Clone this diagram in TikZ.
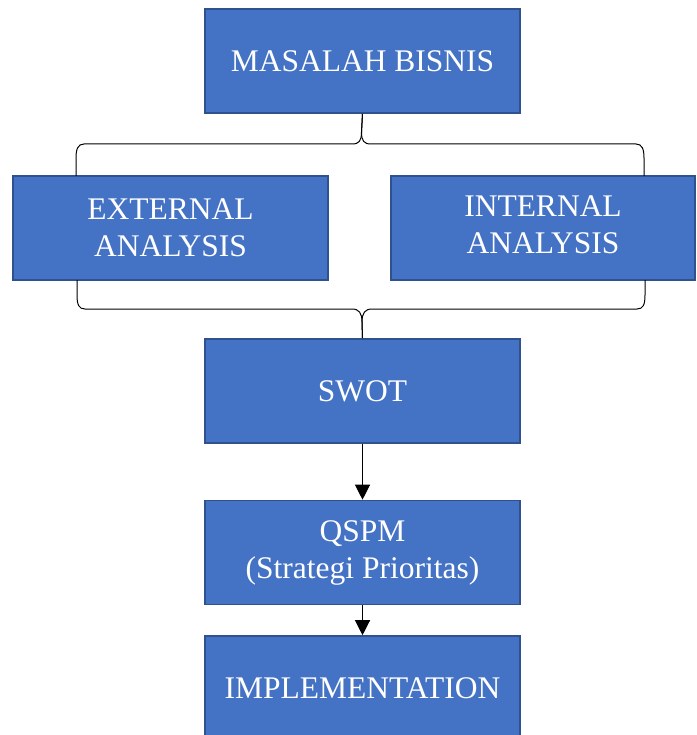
\documentclass[tikz,border=0pt]{standalone}
\usepackage{fontspec}
\setmainfont{Liberation Serif}
\usetikzlibrary{arrows.meta}
\definecolor{boxblue}{HTML}{4472C4}
\definecolor{boxedge}{HTML}{2F528F}
\tikzset{
    blue-box/.style = {draw=boxedge, fill=boxblue, line width=1.6pt, rectangle, minimum width=315pt, minimum height=104pt, inner sep=0pt, align=center, text=white, font=\fontsize{31.5}{37}\selectfont},
    brace-line/.style = {draw=black, line width=1pt},
    flow-arrow/.style = {draw=black, line width=1.2pt, -{Triangle[width=15pt,length=15pt]}},
}

\begin{document}
\begin{tikzpicture}[x=1pt, y=1pt]
\clip (0,0) rectangle (696,-735);
\node [blue-box] (masalah) at (362.5,-61) {MASALAH BISNIS};
\node [blue-box] (external) at (170.5,-228) {EXTERNAL\\ANALYSIS};
\node [blue-box, minimum width=304pt] (internal) at (543,-228) {\raisebox{6pt}{\begin{tabular}{@{}c@{}}INTERNAL\\ANALYSIS\end{tabular}}};
\node [blue-box] (swot) at (362.5,-391) {SWOT};
\node [blue-box] (qspm) at (362.5,-552.5) {QSPM\\(Strategi Prioritas)};
\node [blue-box] (impl) at (362.5,-688) {IMPLEMENTATION};
% brace ends
\coordinate (ext-top) at (76,-176);
\coordinate (int-top) at (644,-176);
\coordinate (ext-bot) at (77,-280);
\coordinate (int-bot) at (645,-280);
% top brace
\draw [brace-line] (masalah.south) -- (361.5,-132) .. controls (361.5,-141) and (359,-144) .. (352,-144)
    -- (84,-144) .. controls (78,-144) and (76,-149) .. (76,-158) -- (ext-top);
\draw [brace-line] (masalah.south) -- (361.5,-132) .. controls (361.5,-141) and (364,-144) .. (371,-144)
    -- (636,-144) .. controls (642,-144) and (644,-149) .. (644,-158) -- (int-top);
% bottom brace
\draw [brace-line] (ext-bot) -- (77,-295) .. controls (77,-305) and (79,-309) .. (85,-309)
    -- (352,-309) .. controls (359,-309) and (362,-313) .. (362,-322) -- (swot.north);
\draw [brace-line] (int-bot) -- (645,-295) .. controls (645,-305) and (643,-309) .. (637,-309)
    -- (372,-309) .. controls (365,-309) and (362,-313) .. (362,-322) -- (swot.north);
% flow
\draw [flow-arrow] (swot) -- (qspm);
\draw [flow-arrow] (qspm) -- (impl);
\end{tikzpicture}
\end{document}
